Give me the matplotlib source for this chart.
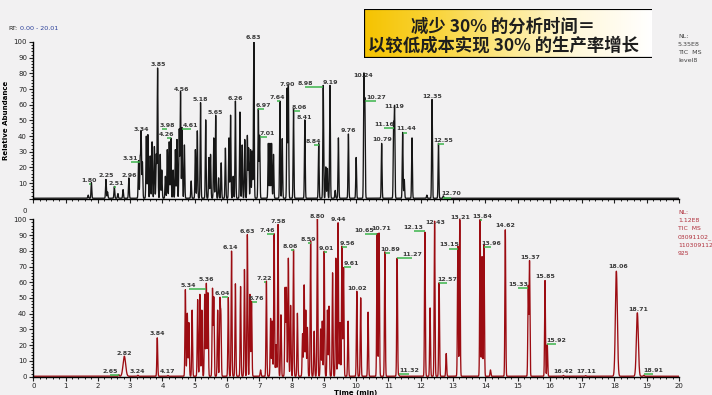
import numpy as np
import matplotlib
matplotlib.use("Agg")
import matplotlib.pyplot as plt
from matplotlib.colors import LinearSegmentedColormap
from matplotlib.ticker import MultipleLocator

# ---- peak table, upper trace (retention time in min, relative abundance) ----
top_rt = [1.70, 1.80, 2.25, 2.30, 2.51, 2.62, 2.78, 2.96,
          3.26, 3.31, 3.34, 3.38, 3.50, 3.55, 3.62, 3.68, 3.75, 3.81, 3.85, 3.93,
          3.98, 4.09, 4.15, 4.21, 4.26, 4.33, 4.40, 4.45, 4.52, 4.56, 4.61, 4.68,
          4.89, 5.02, 5.08, 5.18, 5.34, 5.44, 5.49, 5.59, 5.65, 5.74, 5.82, 5.95,
          6.06, 6.11, 6.19, 6.26, 6.40, 6.47, 6.55, 6.63, 6.67, 6.73, 6.78, 6.83,
          6.97, 7.01, 7.28, 7.33, 7.38, 7.44, 7.64, 7.71, 7.86, 7.90, 8.06, 8.41,
          8.84, 8.98, 9.06, 9.11, 9.19, 9.35, 9.45, 9.76, 10.00, 10.24, 10.27,
          10.79, 11.16, 11.19, 11.44, 11.49, 11.73, 12.19, 12.35, 12.55, 12.70]
top_height = [2, 10, 12, 4, 7.5, 3, 5.5, 13,
              24, 25, 42, 23, 39.6, 40.6, 27, 36, 33, 28, 83, 28,
              18, 14, 31, 36, 38.5, 18, 31, 37.5, 44, 68, 45, 34,
              11, 31, 43, 61, 50, 26, 28, 38.5, 53, 13, 22.6, 32,
              38.5, 53, 14, 62, 55, 34, 37.5, 40, 32, 31, 30, 100,
              57, 40, 35, 35, 35, 28, 62, 38, 70, 72, 57, 50,
              35, 72, 20, 19, 72, 5, 38.5, 41, 26, 77, 60,
              35, 46, 57, 42, 12, 38.5, 2, 63, 35, 1.5]

# ---- peak table, lower trace ----
bot_rt = [2.65, 2.82, 3.24, 3.84, 4.17,
          4.71, 4.77, 4.82, 4.92, 5.09, 5.16, 5.22, 5.31, 5.36, 5.41, 5.55, 5.59,
          5.71, 5.78, 5.81, 6.04, 6.14, 6.26, 6.42, 6.54, 6.63, 6.71, 6.76, 7.04,
          7.22, 7.35, 7.40, 7.46, 7.52, 7.58, 7.67, 7.80, 7.84, 7.90, 7.97, 8.06,
          8.18, 8.34, 8.39, 8.44, 8.49, 8.59, 8.70, 8.80, 8.90, 8.95, 9.01, 9.11,
          9.16, 9.27, 9.37, 9.44, 9.50, 9.56, 9.61, 9.75, 10.02, 10.14, 10.37,
          10.65, 10.71, 10.89, 11.27, 11.32, 12.13, 12.29, 12.43, 12.57, 12.79,
          13.15, 13.21, 13.84, 13.90, 13.96, 14.16, 14.62, 15.33, 15.37, 15.85,
          15.92, 16.42, 17.11, 18.06, 18.71, 18.91]
bot_height = [1, 12.7, 0.6, 24.4, 0.5,
              55, 40, 34, 42, 48.7, 52, 42, 52, 59, 53, 55.5, 50,
              42, 47, 38, 50, 79.5, 58.7, 57, 67.8, 90, 52, 47.6, 4,
              60.4, 36.7, 35, 90.5, 20, 96.4, 39, 56, 56, 75, 45, 80.5,
              40, 27, 58, 42, 31, 86, 28.6, 100, 30, 35, 79.4, 42,
              44.5, 65.7, 75, 97.5, 34, 82.6, 69, 35, 54, 49.8, 40.7,
              90.6, 91, 79, 75, 0.8, 91.5, 43.4, 98.5, 59.4, 14.4,
              82.6, 99.5, 99.5, 76, 83.7, 4, 93, 57, 73, 60.8,
              20, 0.5, 0.4, 66.7, 40.3, 0.6]
# broader peaks in the lower trace (min)
bot_broad = {2.82: 0.04, 18.06: 0.03, 18.71: 0.03}

# ---- peak labels: text, label x (min), label y (%), leader line ----
top_labels = [("1.80", 1.71, 11.7, True), ("2.25", 2.26, 15, False),
              ("2.51", 2.57, 10, True), ("2.96", 2.97, 15, False),
              ("3.31", 3.02, 25.7, True), ("3.34", 3.34, 44.3, False),
              ("3.85", 3.86, 85.8, False), ("3.98", 4.14, 47, True),
              ("4.26", 4.14, 41, True), ("4.56", 4.58, 69.8, False),
              ("4.61", 4.87, 46.6, True), ("5.18", 5.18, 63.4, False),
              ("5.65", 5.64, 55.3, False), ("6.26", 6.26, 64, False),
              ("6.83", 6.83, 102.7, False), ("6.97", 7.14, 59.3, True),
              ("7.01", 7.25, 41.5, True), ("7.64", 7.56, 64.7, True),
              ("7.90", 7.87, 72.6, False), ("8.06", 8.25, 58.3, True),
              ("8.41", 8.41, 52, False), ("8.84", 8.68, 36.7, True),
              ("8.98", 8.43, 73.6, True), ("9.19", 9.19, 74, False),
              ("9.76", 9.76, 43.8, False), ("10.24", 10.23, 78.9, False),
              ("10.27", 10.62, 64.7, True), ("10.79", 10.80, 37.5, False),
              ("11.16", 10.86, 47.2, True), ("11.19", 11.17, 58.9, False),
              ("11.44", 11.56, 44.5, True), ("12.35", 12.35, 65, False),
              ("12.55", 12.71, 37.4, True), ("12.70", 12.94, 3.0, True)]
bot_labels = [("2.65", 2.38, 3.4, True), ("2.82", 2.82, 15, False),
              ("3.24", 3.23, 3.2, False), ("3.84", 3.85, 27.6, False),
              ("4.17", 4.16, 3.2, False), ("5.34", 4.81, 57.9, True),
              ("5.36", 5.36, 61.5, False), ("6.04", 5.85, 52.7, True),
              ("6.14", 6.11, 82, False), ("6.63", 6.63, 92.2, False),
              ("6.76", 6.92, 49.5, True), ("7.22", 7.15, 62.7, True),
              ("7.46", 7.25, 92.7, True), ("7.58", 7.59, 98.9, False),
              ("8.06", 7.97, 82.7, True), ("8.59", 8.51, 87, True),
              ("8.80", 8.80, 102, False), ("9.01", 9.09, 81.7, True),
              ("9.44", 9.44, 100, False), ("9.56", 9.73, 84.7, True),
              ("9.61", 9.84, 72.1, True), ("10.02", 10.04, 56, False),
              ("10.65", 10.26, 92.7, True), ("10.71", 10.77, 94, False),
              ("10.89", 11.06, 81.1, True), ("11.27", 11.73, 77.7, True),
              ("11.32", 11.65, 3.7, True), ("12.13", 11.78, 94.7, True),
              ("12.43", 12.44, 98, False), ("12.57", 12.82, 61.7, True),
              ("13.15", 12.89, 83.7, True), ("13.21", 13.23, 101, False),
              ("13.84", 13.90, 101.7, True), ("13.96", 14.18, 84.7, True),
              ("14.62", 14.63, 96, False), ("15.33", 15.01, 58.7, True),
              ("15.37", 15.40, 76, False), ("15.85", 15.87, 63.5, False),
              ("15.92", 16.20, 23, True), ("16.42", 16.43, 3.3, False),
              ("17.11", 17.13, 3.3, False), ("18.06", 18.12, 70, False),
              ("18.71", 18.74, 43, False), ("18.91", 19.20, 3.7, True)]

top_info = ["NL:", "5.35E8", "TIC  MS", "level8"]
bot_info = ["NL:", "1.12E8", "TIC  MS", "03091102_", "110309112", "925"]
headline = ["减少 30% 的分析时间＝", "以较低成本实现 30% 的生产率增长"]

W, H = 712, 395
BG = "#f2f1f2"
GREEN = "#3cb44b"


def trace(rts, heights, sigma, broad=None):
    t = np.linspace(0, 20, 40001)
    y = np.full_like(t, 0.3)
    for rt, h in zip(rts, heights):
        s = (broad or {}).get(rt, sigma)
        y += h * np.exp(-0.5 * ((t - rt) / s) ** 2)
    return t, y


def style_axes(ax):
    ax.set_xlim(0, 20)
    ax.set_ylim(0, 100)
    ax.set_facecolor("none")
    for side in ("top", "right"):
        ax.spines[side].set_visible(False)
    for side in ("left", "bottom"):
        ax.spines[side].set_linewidth(1.0)
    ax.xaxis.set_major_locator(MultipleLocator(1))
    ax.xaxis.set_minor_locator(MultipleLocator(0.2))
    ax.yaxis.set_major_locator(MultipleLocator(10))
    ax.yaxis.set_minor_locator(MultipleLocator(2))
    ax.tick_params(which="major", length=3, width=0.8, labelsize=5, pad=1.5,
                   colors="#222222")
    ax.tick_params(which="minor", length=1.6, width=0.6)


def draw_labels(ax, labels):
    for text, lx, ly, leader in labels:
        if leader:
            ax.plot([float(text), lx], [ly - 2.3, ly - 2.3], color=GREEN,
                    lw=1.1, solid_capstyle="butt", clip_on=False, zorder=4)
        ax.text(lx, ly, text, ha="center", va="center", fontsize=4.5,
                fontweight="bold", color="#3a3a3a", clip_on=False, zorder=5)


fig = plt.figure(figsize=(W / 100, H / 100), dpi=100, facecolor=BG)

ax_top = fig.add_axes([33.3 / W, (H - 198.7) / H, (679 - 33.3) / W, (198.7 - 42) / H])
ax_bot = fig.add_axes([33.3 / W, (H - 376.7) / H, (679 - 33.3) / W, (376.7 - 219.3) / H])

for ax in (ax_top, ax_bot):
    style_axes(ax)

t, y = trace(top_rt, top_height, 0.012)
ax_top.plot(t, y, color="#161616", lw=0.95)
t, y = trace(bot_rt, bot_height, 0.013, bot_broad)
ax_bot.plot(t, y, color="#9c0c12", lw=0.95)

draw_labels(ax_top, top_labels)
draw_labels(ax_bot, bot_labels)

ax_top.tick_params(axis="x", labelbottom=False)
ax_top.set_yticks(np.arange(0, 101, 10))
ax_top.set_yticklabels([""] + [str(v) for v in range(10, 101, 10)])
fig.text(25 / W, 1 - 211 / H, "0", fontsize=5, color="#222222", ha="center", va="center")

ax_top.set_ylabel("Relative Abundance", fontsize=5, fontweight="bold", labelpad=3)
fig.text(356 / W, 1 - 393 / H, "Time (min)", fontsize=5, fontweight="bold",
         ha="center", va="center")

fig.text(8 / W, 1 - 29 / H, "RT:", fontsize=4.6, color="#222222", va="center")
fig.text(20 / W, 1 - 29 / H, "0.00 - 20.01", fontsize=4.6, color="#2a3f9a", va="center")

for i, line in enumerate(top_info):
    fig.text(678 / W, 1 - (36 + 8.3 * i) / H, line, fontsize=4.6, color="#444444",
             va="center")
for i, line in enumerate(bot_info):
    fig.text(678 / W, 1 - (212 + 8.3 * i) / H, line, fontsize=4.4, color="#b0303c",
             va="center")

# headline banner with yellow-to-white gradient
ax_box = fig.add_axes([364 / W, (H - 58) / H, (652 - 364) / W, 49 / H])
cmap = LinearSegmentedColormap.from_list(
    "banner", ["#f5c300", "#f9d43a", "#fde98f", "#fff8dc", "#ffffff"])
ax_box.imshow(np.linspace(0, 1, 256)[None, :], aspect="auto", cmap=cmap,
              extent=[0, 1, 0, 1])
ax_box.set_xlim(0, 1)
ax_box.set_ylim(0, 1)
ax_box.axis("off")
ax_box.plot([0, 0], [0, 1], color="black", lw=1.6, solid_capstyle="butt")
ax_box.plot([0, 1], [0, 0], color="black", lw=1.6, solid_capstyle="butt")
ax_box.plot([0, 1], [1, 1], color="black", lw=0.8, solid_capstyle="butt")
for txt, yy in zip(headline, (0.63, 0.245)):
    ax_box.text(0.483, yy, txt, ha="center", va="center", fontsize=12.5,
                fontweight="bold", color="#1e1e1e",
                family=["Noto Sans CJK SC", "DejaVu Sans"])

fig.savefig("out.png", dpi=100, facecolor=BG)
